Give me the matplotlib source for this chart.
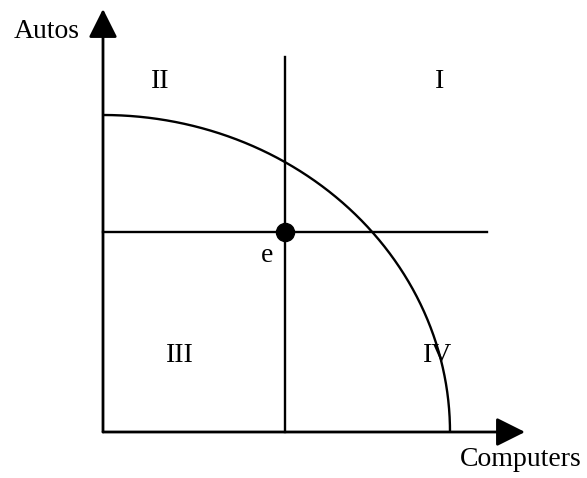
import numpy as np
import matplotlib
matplotlib.use("Agg")
import matplotlib.pyplot as plt

# Data (in drawing units)
ppf_max_autos = 317.0
ppf_max_computers = 347.0
point_e = (182.0, 200.0)
region_labels = ["I", "II", "III", "IV"]
region_pos = [(337, 351), (57, 351), (77, 77), (335, 77)]
axis_labels = ["Autos", "Computers"]

plt.rcParams['font.family'] = ['Liberation Serif', 'DejaVu Serif']

fig = plt.figure(figsize=(5.87, 4.78), dpi=100)
ax = fig.add_axes([0, 0, 1, 1])
ax.set_xlim(-103, 484)
ax.set_ylim(-46, 432)
ax.axis('off')

# Axes with arrows
ax.annotate("", xy=(0, 423), xytext=(0, 0),
            arrowprops=dict(arrowstyle='-|>,head_length=0.8,head_width=0.4', mutation_scale=22,
                            lw=2, color='k', shrinkA=0, shrinkB=0))
ax.annotate("", xy=(422, 0), xytext=(0, 0),
            arrowprops=dict(arrowstyle='-|>,head_length=0.8,head_width=0.4', mutation_scale=22,
                            lw=2, color='k', shrinkA=0, shrinkB=0))

# PPF curve (quarter ellipse)
t = np.linspace(0, np.pi / 2, 300)
ax.plot(ppf_max_computers * np.sin(t), ppf_max_autos * np.cos(t), color='k', lw=1.7,
        solid_capstyle='butt')

# Lines through e
ex, ey = point_e
ax.plot([ex, ex], [0, 375], color='k', lw=1.7)
ax.plot([0, 384], [ey, ey], color='k', lw=1.7)
ax.plot([ex], [ey], 'o', color='k', markersize=13)

fs = 20
ax.text(ex - 18, ey - 23, "e", fontsize=fs, ha='center', va='center')
for lab, (x, y) in zip(region_labels, region_pos):
    ax.text(x, y, lab, fontsize=fs, ha='center', va='center')

ax.text(-56, 401, axis_labels[0], fontsize=fs, ha='center', va='center')
ax.text(418, -28, axis_labels[1], fontsize=fs, ha='center', va='center')

fig.savefig("out.png", dpi=100)
